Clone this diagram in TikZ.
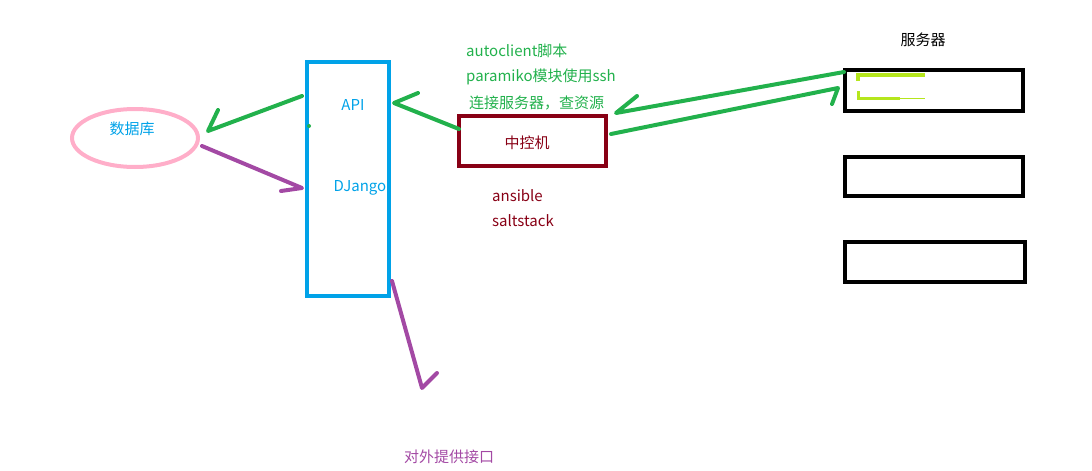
\documentclass[tikz,border=0pt]{standalone}
\usepackage{fontspec}
\setmainfont{Noto Sans CJK SC}
\usetikzlibrary{shapes.geometric}
\definecolor{pgreen}{HTML}{22B14C}
\definecolor{ppurple}{HTML}{A349A4}
\definecolor{ppink}{HTML}{FFAEC9}
\definecolor{pblue}{HTML}{00A2E8}
\definecolor{pred}{HTML}{880015}
\definecolor{plime}{HTML}{B5E61D}

\begin{document}
\begin{tikzpicture}[x=1pt, y=-1pt, font=\fontsize{15}{17}\selectfont]
	\tikzstyle{boxStyle} = [shape = rectangle, draw, line width = 4pt, inner sep = 0pt]
	\tikzstyle{greenArrow} = [draw = pgreen, line width = 4pt, line cap = round, line join = round]
	\tikzstyle{purpleArrow} = [draw = ppurple, line width = 4pt, line cap = round, line join = round]
	\tikzstyle{noteGreen} = [text = pgreen, anchor = west, inner sep = 0pt]
	\tikzstyle{noteRed} = [text = pred, anchor = west, inner sep = 0pt]
	\useasboundingbox (0,0) rectangle (1092,471);
	% database
	\node[shape = ellipse, draw = ppink, line width = 4pt, minimum width = 126pt, minimum height = 58pt, inner sep = 0pt] (db) at (135,138) {};
	\node[text = pblue] (dbLabel) at (132,129) {数据库};
	% django box
	\node[boxStyle, draw = pblue, minimum width = 82pt, minimum height = 234pt] (django) at (348,179) {};
	\node[text = pblue] (api) at (353,105) {API};
	\node[text = pblue] (dj) at (360,188) {DJango};
	\fill[pgreen] (309,126) circle (2pt);
	% control machine
	\node[boxStyle, draw = pred, minimum width = 147pt, minimum height = 50pt] (ctrl) at (532.5,141) {};
	\node[text = pred] (ctrlLabel) at (527,143) {中控机};
	\node[noteGreen] (n1) at (466,51) {autoclient脚本};
	\node[noteGreen] (n2) at (466,77) {paramiko模块使用ssh};
	\node[noteGreen] (n3) at (469,103) {连接服务器，查资源};
	\node[noteRed] (n4) at (492,196) {ansible};
	\node[noteRed] (n5) at (492,221) {saltstack};
	% servers
	\node (srvLabel) at (923,40) {服务器};
	\node[boxStyle, minimum width = 178pt, minimum height = 41pt] (s1) at (934,90.5) {};
	\node[boxStyle, minimum width = 178pt, minimum height = 39pt] (s2) at (934,176.5) {};
	\node[boxStyle, minimum width = 180pt, minimum height = 40pt] (s3) at (935,262) {};
	\draw[plime, line width = 4pt] (858,81) -- (858,75) -- (925,75);
	\draw[plime, line width = 3pt] (858,91) -- (858,98) -- (900,98);
	\draw[plime, line width = 1.5pt] (900,98.5) -- (925,98.5);
	% outside
	\node[text = ppurple] (out) at (449,457) {对外提供接口};
	% arrows
	\coordinate (a1s) at (302,96);
	\coordinate (a1t) at (208,131);
	\coordinate (a1b) at (218,110);
	\draw[greenArrow] (a1s) -- (a1t) -- (a1b);
	\coordinate (a2s) at (202,146);
	\coordinate (a2t) at (302,188);
	\coordinate (a2b) at (281,191);
	\draw[purpleArrow] (a2s) -- (a2t) -- (a2b);
	\coordinate (a3s) at (459,129);
	\coordinate (a3t) at (394,103);
	\coordinate (a3b) at (418,93);
	\draw[greenArrow] (a3s) -- (a3t) -- (a3b);
	\coordinate (a4s) at (844,72);
	\coordinate (a4t) at (616,113);
	\coordinate (a4b) at (637,96);
	\draw[greenArrow] (a4s) -- (a4t) -- (a4b);
	\coordinate (a5s) at (611,134);
	\coordinate (a5t) at (838,88);
	\coordinate (a5b) at (832,104);
	\draw[greenArrow] (a5s) -- (a5t) -- (a5b);
	\coordinate (a6s) at (392,281);
	\coordinate (a6t) at (422,388);
	\coordinate (a6b) at (437,373);
	\draw[purpleArrow] (a6s) -- (a6t) -- (a6b);
\end{tikzpicture}
\end{document}
